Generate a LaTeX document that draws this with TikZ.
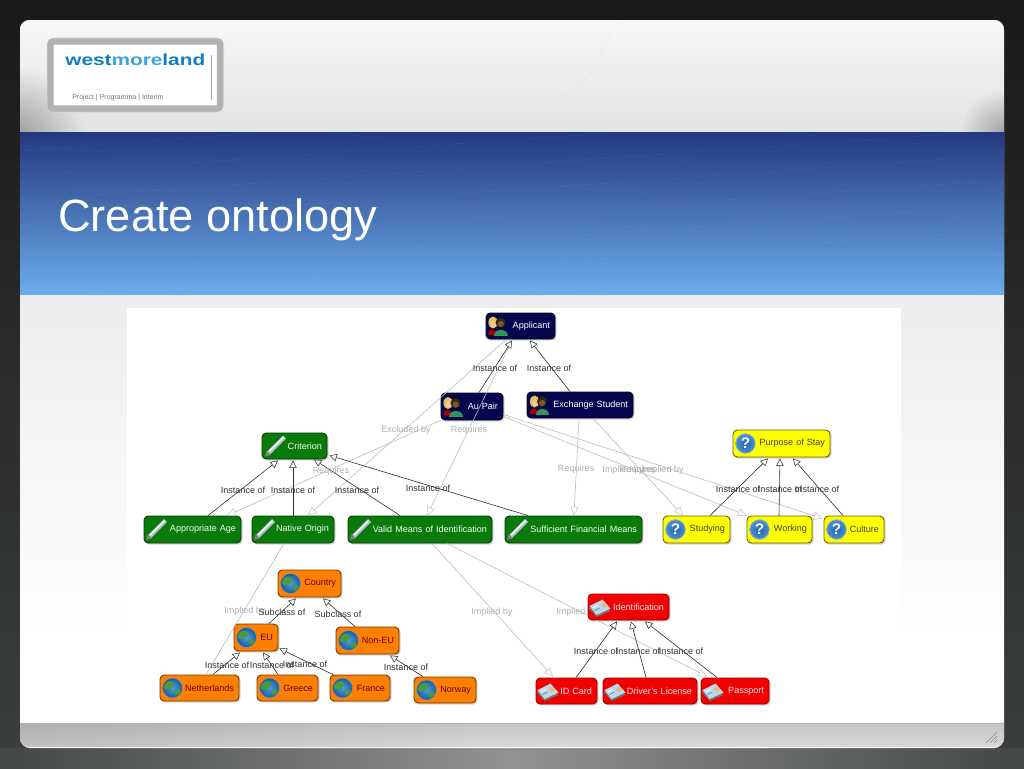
\documentclass[tikz,border=0pt]{standalone}
\usepackage{fontspec}
\setmainfont{Liberation Sans}
\usetikzlibrary{arrows.meta,calc}
\definecolor{navybox}{HTML}{06064F}
\definecolor{greenbox}{HTML}{0A7A0A}
\definecolor{yellowbox}{HTML}{FFFF00}
\definecolor{orangebox}{HTML}{FF8000}
\definecolor{redbox}{HTML}{F20000}
\definecolor{edgedark}{HTML}{2E2E2E}
\definecolor{edgegrey}{HTML}{BDBDBD}
\definecolor{labelgrey}{HTML}{AFAFAF}
\definecolor{sideback}{HTML}{3C3F3F}
\definecolor{glowside}{HTML}{424646}
\definecolor{glowmid}{HTML}{929292}
\definecolor{bandtop}{HTML}{243880}
\definecolor{bandmid}{HTML}{4872B4}
\definecolor{bandlow}{HTML}{6CACEC}
\definecolor{pencilbody}{HTML}{B0BEC8}
\definecolor{blondhair}{HTML}{E8BE60}
\definecolor{paleface}{HTML}{F2C896}
\definecolor{greenshirt}{HTML}{2E965A}
\definecolor{darkhair}{HTML}{322810}
\definecolor{darkface}{HTML}{82542C}
\definecolor{qinner}{HTML}{2468B4}
\definecolor{qouter}{HTML}{4E90CC}
\definecolor{qrim}{HTML}{8DB6DC}
\definecolor{globein}{HTML}{4C9EE0}
\definecolor{globeout}{HTML}{1A5C9C}
\definecolor{land}{HTML}{4E9A40}
\definecolor{cardface}{HTML}{BED7EB}
\definecolor{cardgold}{HTML}{E1BE78}
\definecolor{cardline}{HTML}{5A82AA}
\tikzset{
  x=0.75pt,y=-0.75pt,
  onto/.style={draw=#1,line width=0.7pt,rounded corners=3.2pt,inner sep=0pt,font=\fontsize{6.8}{8}\selectfont,align=right,
    preaction={draw=black!35,fill=black!35,opacity=.4,transform canvas={xshift=.9pt,yshift=-.9pt}}},
  navynode/.style={onto=black!60!navybox,fill=navybox,text=white},
  greennode/.style={onto=black!50!greenbox,fill=greenbox,text=green!6},
  yellownode/.style={onto=black!60!yellowbox,fill=yellowbox,text=black!85!yellow},
  orangenode/.style={onto=black!55!orangebox,fill=orangebox,text=black!60!red},
  rednode/.style={onto=black!35!redbox,fill=redbox,text=red!8},
  inst/.style={draw=edgedark,line width=0.45pt,-{Triangle[fill=white,length=5.5pt,width=5.5pt,line width=.4pt]}},
  rel/.style={draw=edgegrey,line width=0.45pt,-{Triangle[fill=white,length=6.5pt,width=6pt,line width=.35pt]}},
  darklabel/.style={text=black!80,font=\fontsize{6.75}{8}\selectfont,inner sep=0pt},
  greylabel/.style={text=labelgrey,font=\fontsize{6.75}{8}\selectfont,inner sep=0pt},
  pencilicon/.pic={
    \draw[line width=3.2pt,color=pencilbody] (-7,7) -- (9,-9);
    \draw[line width=1.1pt,color=white] (-6.5,5.5) -- (8,-9);
    \fill[black!50] (-10.5,10.5) -- (-9,5) -- (-5,9) -- cycle;
  },
  peopleicon/.pic={
    \fill[red!65!black] (-9.5,9) .. controls (-10,2) and (-2,1) .. (-1,9) -- cycle;
    \fill[blondhair] (-5,-3.5) circle[x radius=4.6,y radius=6];
    \fill[paleface] (-4.5,-2) circle[x radius=2.6,y radius=3.4];
    \fill[greenshirt] (-4,10) .. controls (-4,2) and (9.5,2) .. (9.5,10) -- cycle;
    \fill[darkhair] (2.5,-3.5) circle[radius=5];
    \fill[darkface] (2.7,-2) circle[radius=3.1];
  },
  questionicon/.pic={
    \shade[inner color=qinner,outer color=qouter] (0,0) circle[radius=10];
    \draw[qrim,line width=.5pt] (0,0) circle[radius=9.7];
    \node[text=white,font=\bfseries\fontsize{11.5}{12}\selectfont,inner sep=0pt] at (0,0) {?};
  },
  globeicon/.pic={
    \shade[inner color=globein,outer color=globeout] (0,0) circle[radius=10];
    \fill[land] (-7,-5) .. controls (-2,-9) and (3,-6) .. (1,-2) .. controls (-1,2) and (-6,3) .. (-9,0) -- cycle;
    \fill[land] (3,2) .. controls (7,0) and (9,3) .. (7,6) .. controls (4,9) and (1,6) .. (3,2) -- cycle;
    \draw[black!40,line width=.35pt] (0,0) circle[radius=10];
  },
  cardicon/.pic={
    \fill[black!55] (-11,1) -- (3,-6) -- (11,4) -- (-3,10) -- cycle;
    \fill[cardface] (-10,-1) -- (3,-7.5) -- (11,1.5) -- (-3,8) -- cycle;
    \fill[cardgold] (1,-2.5) -- (5,-4.5) -- (8,-1) -- (4,1) -- cycle;
    \draw[white,line width=.6pt] (-7,1) -- (-2,-1.5);
    \draw[cardline,line width=.5pt] (-5,3.5) -- (0,1);
  },
}
% \ontobox{name}{x1}{y1}{x2}{y2}{style}{icon}{icon offset}{text}
\newcommand{\ontobox}[9]{%
  \pgfmathsetlengthmacro{\boxw}{(#4-#2)*0.75pt}%
  \pgfmathsetlengthmacro{\boxh}{(#5-#3)*0.75pt}%
  \pgfmathsetlengthmacro{\boxt}{(#4-#2-10)*0.75pt}%
  \node[#6,minimum width=\boxw,minimum height=\boxh,text width=\boxt] (#1) at ({(#2+#4)/2},{(#3+#5)/2}) {#9};
  \path ($(#1.west)+(#8,0)$) pic {#7};
}
\begin{document}
\begin{tikzpicture}
\useasboundingbox (0,0) rectangle (1024,768);
% slide background
\shade[top color=black!90,bottom color=sideback] (0,0) rectangle (1024,768);
\shade[left color=glowside,right color=glowmid] (0,748) rectangle (512,768);
\shade[left color=glowmid,right color=glowside] (512,748) rectangle (1024,768);
% slide panel
\fill[white,rounded corners=7.5pt] (20,20) rectangle (1004,748);
\begin{scope}
\clip[rounded corners=7pt] (20,20) rectangle (1004,747);
\shade[top color=white!97!black,middle color=white!95!black,bottom color=white!89!black] (20,20) rectangle (1004,132);
\foreach \rr in {2,4,...,64} \fill[black,opacity=.008] (20,132) circle[radius=\rr];
\foreach \rr in {2,4,...,42} \fill[black,opacity=.012] (1004,132) circle[radius=\rr];
\draw[black,opacity=.012,line width=1.5pt] (620,20) .. controls (600,40) and (600,85) .. (560,95);
\shade[top color=white!93!black,bottom color=white] (20,294) rectangle (1004,640);
\shade[left color=white!74!black,right color=white!84!black] (20,723) rectangle (512,747);
\fill[white!84!black] (512,723) rectangle (1004,747);
\shade[top color=black,bottom color=white,opacity=.07] (20,723) rectangle (1004,747);
\draw[black!30,line width=.6pt] (20,723) -- (1004,723);
\end{scope}
% blue band
\shade[top color=bandtop,bottom color=bandlow,middle color=bandmid] (20,132) rectangle (1004,294);
\begin{scope}\clip (20,132) rectangle (1004,294);
\foreach \yy in {150,175,...,325} \draw[white,opacity=.04,line width=.5pt] (20,\yy) -- (1004,\yy-70);
\foreach \yy in {40,75,...,250} \draw[white,opacity=.03,line width=.5pt] (20,\yy) -- (1004,\yy+75);
\end{scope}
% grip
\foreach \dd in {0,4,8} \draw[black!45,line width=.5pt] (986+\dd,743) -- (997,732+\dd);
% logo
\draw[black!15,line width=6pt,rounded corners=3pt] (50.5,41.5) rectangle (220,108.5);
\draw[black!30,line width=4.8pt,rounded corners=2pt,fill=white] (50.5,41.5) rectangle (220,108.5);
\node[anchor=base west,inner sep=0pt,xscale=1.3,font=\bfseries\fontsize{12}{12}\selectfont] (brand) at (65,65) {\textcolor[HTML]{0F7CC4}{west}\textcolor[HTML]{3FA0DC}{more}\textcolor[HTML]{0F7CC4}{land}};
\node[anchor=base west,inner sep=0pt,text=black!55,font=\fontsize{5.25}{6}\selectfont] (tagline) at (72,99.5) {Project | Programma | Interim};
\draw[black!30!blue!40!white,line width=.6pt] (211,55) -- (211,100);
% title
\node[anchor=base west,inner sep=0pt,text=white,font=\fontsize{33.9}{36}\selectfont] (title) at (58,231) {Create ontology};
% diagram canvas
\fill[white] (127,308) rectangle (901,712);
\ontobox{applicant}{486}{313}{555}{339}{navynode}{peopleicon}{12.5}{Applicant}
\ontobox{aupair}{441}{393}{503}{420}{navynode}{peopleicon}{12.5}{Au Pair}
\ontobox{exchange}{527}{392}{633}{418}{navynode}{peopleicon}{13}{Exchange Student}
\ontobox{criterion}{262}{433}{327}{459}{greennode}{pencilicon}{14}{Criterion}
\ontobox{appage}{144}{516}{241}{543}{greennode}{pencilicon}{13}{Appropriate Age}
\ontobox{native}{252}{516}{334}{543}{greennode}{pencilicon}{13}{Native Origin}
\ontobox{valid}{348}{516}{492}{543}{greennode}{pencilicon}{13}{Valid Means of Identification}
\ontobox{suff}{505}{516}{642}{543}{greennode}{pencilicon}{13}{Sufficient Financial Means}
\ontobox{studying}{663}{516}{730}{543}{yellownode}{questionicon}{13}{Studying}
\ontobox{working}{747}{516}{812}{543}{yellownode}{questionicon}{13}{Working}
\ontobox{culture}{824}{516}{884}{543}{yellownode}{questionicon}{13}{Culture}
\ontobox{purpose}{733}{430}{830}{457}{yellownode}{questionicon}{13}{Purpose of Stay}
\ontobox{country}{278}{570}{341}{597}{orangenode}{globeicon}{13}{Country}
\ontobox{eu}{234}{624}{278}{651}{orangenode}{globeicon}{13}{EU}
\ontobox{noneu}{336}{627}{399}{654}{orangenode}{globeicon}{13}{Non-EU}
\ontobox{nether}{160}{675}{239}{701}{orangenode}{globeicon}{13}{Netherlands}
\ontobox{greece}{257}{675}{318}{701}{orangenode}{globeicon}{13}{Greece}
\ontobox{france}{330}{675}{390}{701}{orangenode}{globeicon}{13}{France}
\ontobox{norway}{414}{677}{476}{703}{orangenode}{globeicon}{13}{Norway}
\ontobox{idcard}{536}{678}{597}{704}{rednode}{cardicon}{12}{ID Card}
\ontobox{driver}{603}{678}{697}{704}{rednode}{cardicon}{12}{Driver's License}
\ontobox{passport}{701}{678}{769}{704}{rednode}{cardicon}{12}{Passport}
% the second Implied by label lies under the Identification box
\node[greylabel,anchor=west] (implied2) at (556,612) {Implied by};
\ontobox{ident}{588}{594}{669}{620}{rednode}{cardicon}{12}{Identification}
% grey relation edges
\draw[rel] ($(applicant.south)+(-15.5,1)$) -- ($(native.north)+(15,0)$);
\draw[rel] ($(applicant.south)+(-9.5,3)$) -- ($(valid.north)+(7,0)$);
\draw[rel] (aupair.south west) -- ($(appage.north)+(34.5,0)$);
\draw[rel] ($(exchange.south)+(-1,0)$) -- ($(suff.north)+(0.5,0)$);
\draw[rel] ($(exchange.south)+(13,0)$) -- ($(studying.north)+(-13.5,0)$);
\draw[rel] ($(aupair.south east)+(0,-4)$) -- (working.north west);
\draw[rel] ($(aupair.south east)+(0,-6)$) -- ($(culture.north west)+(-1,3)$);
\draw[rel] ($(valid.south)+(12,0)$) -- ($(idcard.north)+(-13.5,-1)$);
\begin{scope}
\clip (127,308) rectangle (588,712) (588,620) rectangle (901,712) (669,308) rectangle (901,620);
\draw[rel] ($(valid.south)+(27,0)$) -- ($(passport.north)+(-28,-1)$);
\end{scope}
\draw[draw=edgegrey,line width=0.45pt] ($(native.south)+(-9,0)$) -- ($(nether.north)+(6.5,0)$);
% instance / subclass edges
\draw[inst] ($(aupair.north)+(7,0)$) -- ($(applicant.south)+(-8.5,1)$);
\draw[inst] ($(exchange.north)+(-10,0)$) -- ($(applicant.south)+(9.5,1)$);
\draw[inst] ($(appage.north)+(15.5,0)$) -- ($(criterion.south)+(-16.5,1)$);
\draw[inst] (native.north) -- ($(criterion.south)+(-1.5,1)$);
\draw[inst] ($(valid.north)+(-20,0)$) -- ($(criterion.south)+(19.5,0)$);
\draw[inst] ($(suff.north)+(-45.5,0)$) -- ($(criterion.south east)+(2,-4)$);
\draw[inst] ($(studying.north)+(13.5,0)$) -- ($(purpose.south)+(-13.5,1)$);
\draw[inst] ($(working.north)+(-0.5,0)$) -- ($(purpose.south)+(-1.5,1)$);
\draw[inst] ($(culture.north)+(-11,0)$) -- ($(purpose.south)+(11.5,1)$);
\draw[inst] ($(eu.north)+(13,0)$) -- ($(country.south)+(-13.5,1)$);
\draw[inst] ($(noneu.north)+(-12.5,0)$) -- ($(country.south)+(13.5,1)$);
\draw[inst] ($(nether.north)+(13.5,0)$) -- ($(eu.south)+(-16,1)$);
\draw[inst] ($(greece.north)+(-9.5,0)$) -- ($(eu.south)+(7,1)$);
\draw[inst] ($(france.north)+(-27,0)$) -- ($(eu.south east)+(1,-3)$);
\draw[inst] ($(norway.north)+(-22,0)$) -- ($(noneu.south)+(22.5,1)$);
\draw[inst] ($(idcard.north)+(9.5,0)$) -- ($(ident.south)+(-11.5,1)$);
\draw[inst] ($(driver.north)+(-4,0)$) -- ($(ident.south)+(2.5,1)$);
\draw[inst] ($(passport.north)+(-18,0)$) -- ($(ident.south)+(16.5,1)$);
% labels
\foreach \lx/\ly/\lt in {406/430/Excluded by,469/430/Requires,331/471/Requires,576/469/Requires,623/470/Implied by,638/470/Requires,663/470/Implied by,492/612/Implied by,245/611/Implied by}
  \node[greylabel] at (\lx,\ly) {\lt};
\foreach \lx/\ly/\lt in {495/368/Instance of,549/368/Instance of,243/490/Instance of,293/490/Instance of,357/490/Instance of,428/488/Instance of,738/489/Instance of,780/489/Instance of,817/489/Instance of,282/612/Subclass of,338/614/Subclass of,227/665/Instance of,272/665/Instance of,305/664/Instance of,406/667/Instance of,596/651/Instance of,638/651/Instance of,681/651/Instance of}
  \node[darklabel] at (\lx,\ly) {\lt};
\end{tikzpicture}
\end{document}
